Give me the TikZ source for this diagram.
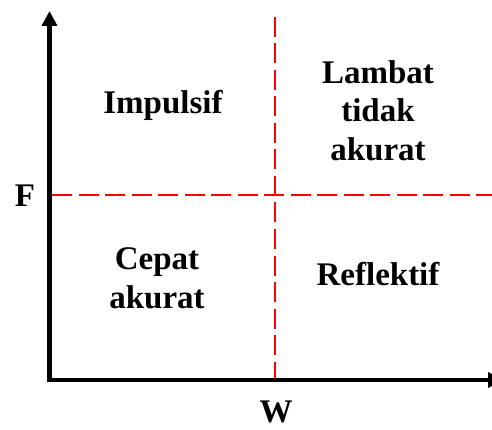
\documentclass[tikz,border=0pt]{standalone}
\usepackage{fontspec}
\setmainfont{Liberation Serif}
\usetikzlibrary{arrows.meta}
\begin{document}
\begin{tikzpicture}[x=1pt,y=-1pt,
  axisline/.style={line width=4.5pt,-{Triangle[width=15pt,length=15pt]}},
  divider/.style={draw=red,line width=2pt,dash pattern=on 20pt off 6.5pt},
  quadtext/.style={font=\bfseries\fontsize{33}{38.5}\selectfont,align=center,inner sep=0pt}]
\useasboundingbox (0,0) rectangle (492,430);
\begin{scope}
\clip (0,0) rectangle (492,430);
% coordinates
\coordinate (ytop) at (49.5,11);
\coordinate (ybot) at (49.5,382.25);
\coordinate (xleft) at (47.25,380);
\coordinate (xend) at (503,380);
\coordinate (vtop) at (275,17);
\coordinate (vbot) at (275,378);
\coordinate (hleft) at (52,195);
\coordinate (hright) at (492,195);
% dividers
\draw[divider] (vtop) -- (vbot);
\draw[divider] (hleft) -- (hright);
% axes
\draw[axisline] (ybot) -- (ytop);
\draw[axisline] (xleft) -- (xend);
\end{scope}
% labels
\node[quadtext,anchor=base] (F) at (25,207) {F};
\node[quadtext,anchor=base] (W) at (276,422.5) {W};
\node[quadtext,anchor=base] (imp) at (163,114) {Impulsif};
\node[quadtext] (lam) at (378,110.5) {Lambat\\tidak\\akurat};
\node[quadtext] (cep) at (157,278.5) {Cepat\\akurat};
\node[quadtext,anchor=base] (ref) at (378,285) {Reflektif};
\end{tikzpicture}
\end{document}
